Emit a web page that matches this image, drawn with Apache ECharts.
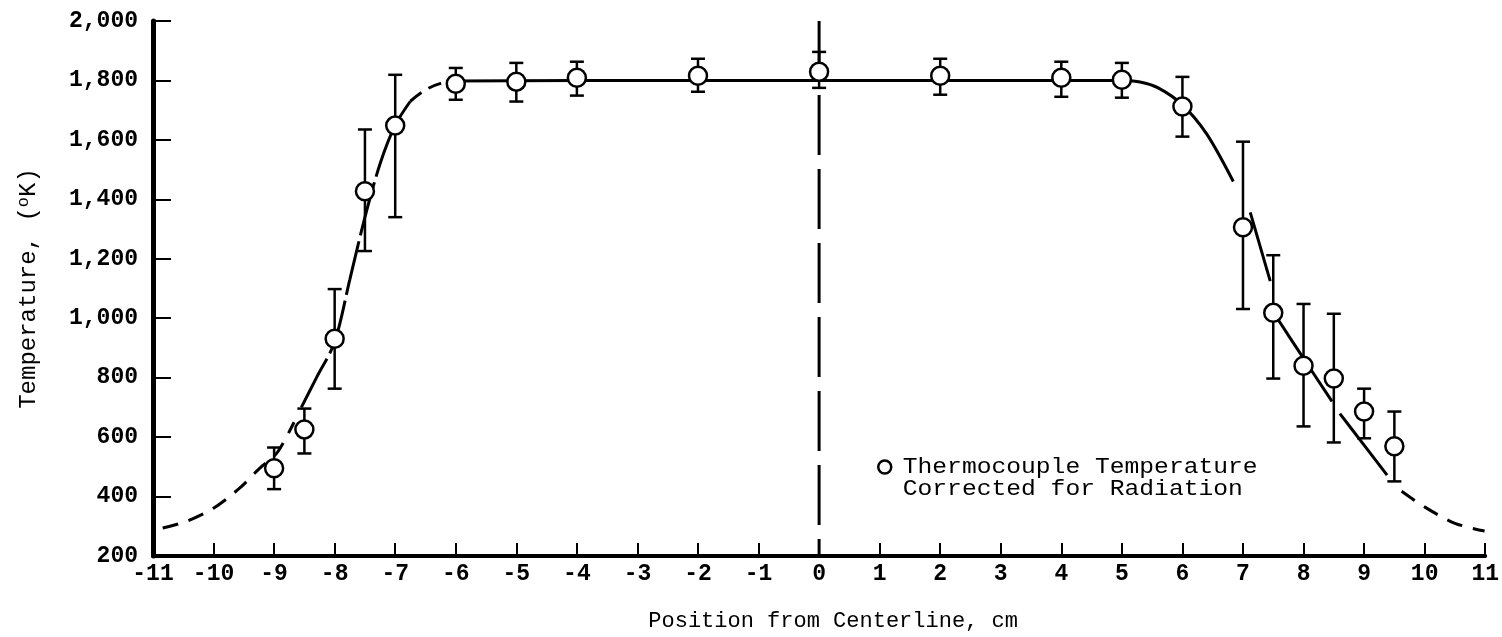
<!DOCTYPE html>
<html>
<head>
<meta charset="utf-8">
<script src="https://cdn.jsdelivr.net/npm/echarts@6/dist/echarts.min.js"></script>
<style>
  html, body { margin: 0; padding: 0; background: #fff; }
  #chart { width: 1502px; height: 637px; }
</style>
</head>
<body>
<div id="chart"></div>
<script>
// Measured positions (cm from centerline) and corrected thermocouple temperatures (K)
const positions = [-9, -8.5, -8, -7.5, -7, -6, -5, -4, -2, 0, 2, 4, 5, 6, 7, 7.5, 8, 8.5, 9, 9.5];
const temps     = [495, 626, 931, 1427, 1648, 1789, 1796, 1809, 1816, 1829, 1816, 1809, 1802, 1712, 1306, 1018, 840, 797, 686, 569];
const upperTemp = [565, 696, 1098, 1635, 1819, 1842, 1859, 1863, 1873, 1896, 1873, 1863, 1859, 1812, 1594, 1212, 1048, 1015, 763, 686];
const lowerTemp = [425, 545, 763, 1226, 1340, 1735, 1729, 1749, 1762, 1775, 1752, 1745, 1742, 1611, 1031, 797, 636, 582, 596, 451];

// Faired profile curve, split into dashed (extrapolated) and solid pieces; null = gap
const leftTailX  = [-10.84, -10.44, -10.0, -9.57, -9.24, -8.96, -8.67];
const leftTailY  = [294, 317, 361, 428, 495, 545, 650];
const leftRiseX  = [-8.55, -8.3, -8.0, -7.75, -7.5, -7.25, -7.0, -6.75];
const leftRiseY  = [700, 800, 920, 1130, 1340, 1520, 1650, 1730];
const leftBendX  = [-6.75, -6.5, -6.25, -6.0];
const leftBendY  = [1730, 1768, 1790, 1798];
const plateauX   = [-6.0, -4, -2, 0, 2, 4, 5.0];
const plateauY   = [1798, 1800, 1800, 1800, 1800, 1800, 1800];
const rightFallX = [5.0, 5.3, 5.6, 6.0, 6.4, 6.84, 6.98, 7.12, 7.45, 7.5, 7.55, 7.97, 8.47, 8.53, 8.6, 9.0, 9.38];
const rightFallY = [1800, 1795, 1775, 1718, 1620, 1460, null, 1356, 1125, null, 1005, 874, 720, null, 679, 573, 472];
const rightTailX = [9.62, 10.0, 10.5, 10.99];
const rightTailY = [418, 365, 310, 284];

const xTicks = { min: -11, max: 11, step: 1 };
const yTicks = { min: 200, max: 2000, step: 200 };

const pair = (xs, ys) => xs.map((x, i) => [x, ys[i] === null ? '-' : ys[i]]);

const chart = echarts.init(document.getElementById('chart'), null, { renderer: 'canvas' });

const mono = 'Liberation Mono, DejaVu Sans Mono, monospace';
const curveStyle = { color: '#000', width: 3 };

// Vertical bar with end caps from lower to upper temperature
function errorBar(params, api) {
  const x = api.value(0);
  const pLo = api.coord([x, api.value(1)]);
  const pHi = api.coord([x, api.value(2)]);
  const hw = 7;
  const st = { stroke: '#000', lineWidth: 2.5 };
  return {
    type: 'group',
    children: [
      { type: 'line', shape: { x1: pLo[0], y1: pLo[1], x2: pHi[0], y2: pHi[1] }, style: st },
      { type: 'line', shape: { x1: pLo[0] - hw, y1: pLo[1], x2: pLo[0] + hw, y2: pLo[1] }, style: st },
      { type: 'line', shape: { x1: pHi[0] - hw, y1: pHi[1], x2: pHi[0] + hw, y2: pHi[1] }, style: st }
    ]
  };
}

chart.setOption({
  backgroundColor: '#fff',
  animation: false,
  grid: { left: 153, right: 11, top: 21, bottom: 79 },
  xAxis: {
    type: 'value',
    min: xTicks.min, max: xTicks.max, interval: xTicks.step,
    name: 'Position from Centerline, cm',
    nameLocation: 'middle',
    nameGap: 54,
    nameTextStyle: { fontFamily: mono, fontSize: 22, color: '#000', padding: [0, 0, 0, 28] },
    axisLine: { onZero: false, lineStyle: { color: '#000', width: 4 } },
    axisTick: { inside: true, length: 13, lineStyle: { color: '#000', width: 2 } },
    axisLabel: { fontFamily: mono, fontSize: 23, fontWeight: 'bold', color: '#000', margin: 7,
                 showMinLabel: true, showMaxLabel: true },
    splitLine: { show: false }
  },
  yAxis: {
    type: 'value',
    min: yTicks.min, max: yTicks.max, interval: yTicks.step,
    name: '{t|Temperature, (}{s|o}{t|K)}',
    nameLocation: 'middle',
    nameRotate: 90,
    nameGap: 110,
    nameTextStyle: {
      rich: {
        t: { fontFamily: mono, fontSize: 24, color: '#000' },
        s: { fontFamily: mono, fontSize: 17, color: '#000', verticalAlign: 'bottom', padding: [0, 0, 11, 0] }
      }
    },
    axisLine: { onZero: false, lineStyle: { color: '#000', width: 5 } },
    axisTick: { inside: true, length: 18, lineStyle: { color: '#000', width: 2 } },
    axisLabel: {
      fontFamily: mono, fontSize: 23, fontWeight: 'bold', color: '#000', margin: 15,
      formatter: v => v.toLocaleString('en-US')
    },
    splitLine: { show: false }
  },
  graphic: [
    {
      type: 'group', left: 877, top: 456,
      children: [
        { type: 'circle', shape: { cx: 8, cy: 11, r: 6.5 }, style: { fill: '#fff', stroke: '#000', lineWidth: 2.5 } },
        { type: 'text', x: 26, y: 0, scaleX: 1.12, style: { text: 'Thermocouple Temperature', font: '22px ' + mono, fill: '#000' } },
        { type: 'text', x: 26, y: 22, scaleX: 1.12, style: { text: 'Corrected for Radiation', font: '22px ' + mono, fill: '#000' } }
      ]
    }
  ],
  series: [
    {
      name: 'Centerline', type: 'line', symbol: 'none', silent: true, z: 1,
      data: [[0, yTicks.max], [0, yTicks.min]],
      lineStyle: { color: '#000', width: 3, type: [60, 14] }
    },
    {
      name: 'Profile (extrapolated, left)', type: 'line', symbol: 'none', smooth: 0.3, z: 2,
      data: pair(leftTailX, leftTailY),
      lineStyle: Object.assign({ type: [16, 11] }, curveStyle)
    },
    {
      name: 'Profile (left rise)', type: 'line', symbol: 'none', smooth: 0.3, z: 2,
      data: pair(leftRiseX, leftRiseY),
      lineStyle: Object.assign({ type: [55, 6] }, curveStyle)
    },
    {
      name: 'Profile (left bend)', type: 'line', symbol: 'none', smooth: 0.4, z: 2,
      data: pair(leftBendX, leftBendY),
      lineStyle: Object.assign({ type: [14, 8] }, curveStyle)
    },
    {
      name: 'Profile (plateau)', type: 'line', symbol: 'none', z: 2,
      data: pair(plateauX, plateauY),
      lineStyle: curveStyle
    },
    {
      name: 'Profile (right fall)', type: 'line', symbol: 'none', smooth: 0.3, connectNulls: false, z: 2,
      data: pair(rightFallX, rightFallY),
      lineStyle: curveStyle
    },
    {
      name: 'Profile (extrapolated, right)', type: 'line', symbol: 'none', smooth: 0.3, z: 2,
      data: pair(rightTailX, rightTailY),
      lineStyle: Object.assign({ type: [16, 11] }, curveStyle)
    },
    {
      name: 'Uncertainty', type: 'custom', z: 3,
      renderItem: errorBar,
      encode: { x: 0, y: [1, 2] },
      data: positions.map((x, i) => [x, lowerTemp[i], upperTemp[i]])
    },
    {
      name: 'Thermocouple Temperature', type: 'scatter', z: 4,
      symbol: 'circle', symbolSize: 18,
      itemStyle: { color: '#fff', borderColor: '#000', borderWidth: 2.5, opacity: 1 },
      data: positions.map((x, i) => [x, temps[i]])
    }
  ]
});
</script>
</body>
</html>
